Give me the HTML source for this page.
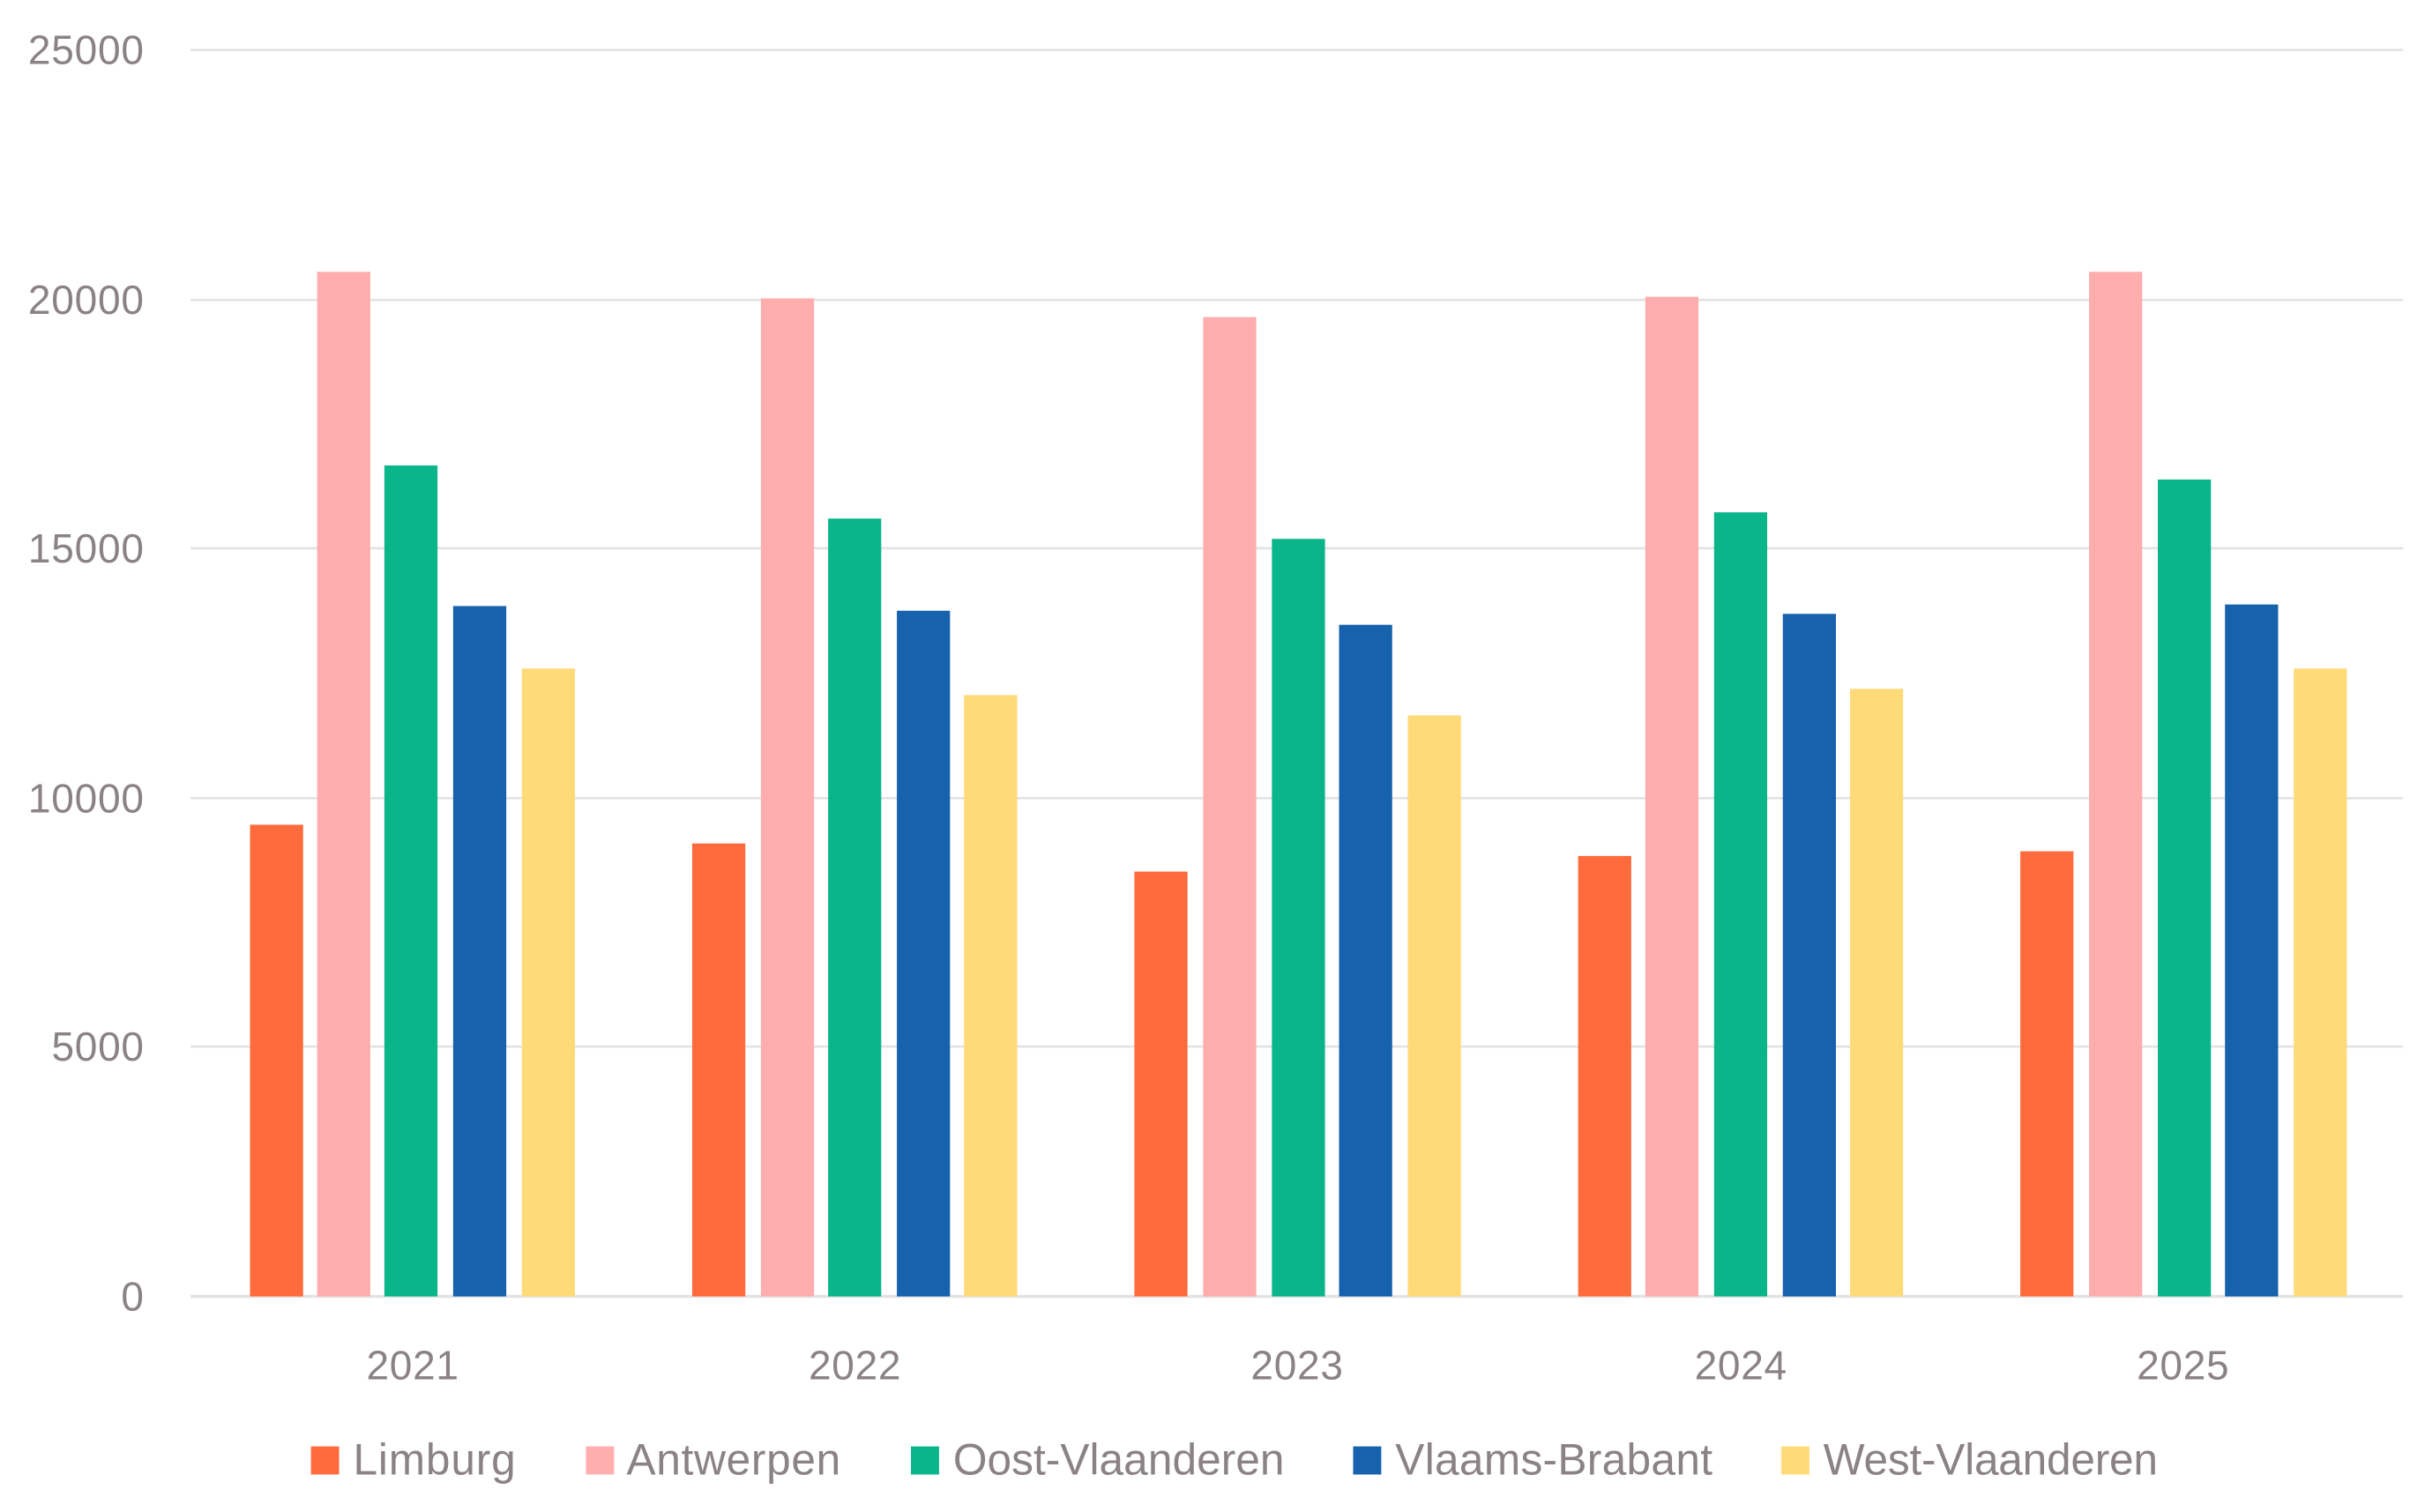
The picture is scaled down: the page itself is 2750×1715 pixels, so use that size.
<!DOCTYPE html>
<html><head><meta charset="utf-8"><style>html,body{margin:0;padding:0;background:#fff}svg{display:block}</style></head>
<body>
<svg width="2750" height="1715" viewBox="0 0 1552 968" preserveAspectRatio="none" xmlns="http://www.w3.org/2000/svg" font-family="Liberation Sans, sans-serif" fill="#8a8286">
<g stroke="#e3e3e3" stroke-width="1.5">
<line x1="122" y1="32" x2="1538" y2="32"/>
<line x1="122" y1="192" x2="1538" y2="192"/>
<line x1="122" y1="351" x2="1538" y2="351"/>
<line x1="122" y1="511" x2="1538" y2="511"/>
<line x1="122" y1="670" x2="1538" y2="670"/>
<line x1="122" y1="830" x2="1538" y2="830" stroke-width="2"/>
</g>
<g font-size="26" text-anchor="end" font-weight="300">
<text x="92" y="41" textLength="74">25000</text>
<text x="92" y="201" textLength="74">20000</text>
<text x="92" y="360" textLength="74">15000</text>
<text x="92" y="520" textLength="74">10000</text>
<text x="92" y="679" textLength="59">5000</text>
<text x="92" y="839">0</text>
</g>
<g id="bars">
<!-- 2021 -->
<rect x="160" y="528" width="34" height="302" fill="#FF6B3D"/>
<rect x="203" y="174" width="34" height="656" fill="#FFADAD"/>
<rect x="246" y="298" width="34" height="532" fill="#0BB58A"/>
<rect x="290" y="388" width="34" height="442" fill="#1662AD"/>
<rect x="334" y="428" width="34" height="402" fill="#FFDA78"/>
<!-- 2022 -->
<rect x="443" y="540" width="34" height="290" fill="#FF6B3D"/>
<rect x="487" y="191" width="34" height="639" fill="#FFADAD"/>
<rect x="530" y="332" width="34" height="498" fill="#0BB58A"/>
<rect x="574" y="391" width="34" height="439" fill="#1662AD"/>
<rect x="617" y="445" width="34" height="385" fill="#FFDA78"/>
<!-- 2023 -->
<rect x="726" y="558" width="34" height="272" fill="#FF6B3D"/>
<rect x="770" y="203" width="34" height="627" fill="#FFADAD"/>
<rect x="814" y="345" width="34" height="485" fill="#0BB58A"/>
<rect x="857" y="400" width="34" height="430" fill="#1662AD"/>
<rect x="901" y="458" width="34" height="372" fill="#FFDA78"/>
<!-- 2024 -->
<rect x="1010" y="548" width="34" height="282" fill="#FF6B3D"/>
<rect x="1053" y="190" width="34" height="640" fill="#FFADAD"/>
<rect x="1097" y="328" width="34" height="502" fill="#0BB58A"/>
<rect x="1141" y="393" width="34" height="437" fill="#1662AD"/>
<rect x="1184" y="441" width="34" height="389" fill="#FFDA78"/>
<!-- 2025 -->
<rect x="1293" y="545" width="34" height="285" fill="#FF6B3D"/>
<rect x="1337" y="174" width="34" height="656" fill="#FFADAD"/>
<rect x="1381" y="307" width="34" height="523" fill="#0BB58A"/>
<rect x="1424" y="387" width="34" height="443" fill="#1662AD"/>
<rect x="1468" y="428" width="34" height="402" fill="#FFDA78"/>
</g>
<g font-size="26" text-anchor="middle">
<text x="264" y="883" textLength="59">2021</text>
<text x="547" y="883" textLength="59">2022</text>
<text x="830" y="883" textLength="59">2023</text>
<text x="1114" y="883" textLength="59">2024</text>
<text x="1397" y="883" textLength="59">2025</text>
</g>
<g font-size="28">
<rect x="199" y="926" width="18" height="18" fill="#FF6B3D"/>
<text x="226" y="944" textLength="104">Limburg</text>
<rect x="375" y="926" width="18" height="18" fill="#FFADAD"/>
<text x="401" y="944" textLength="137">Antwerpen</text>
<rect x="583" y="926" width="18" height="18" fill="#0BB58A"/>
<text x="610" y="944" textLength="212">Oost-Vlaanderen</text>
<rect x="866" y="926" width="18" height="18" fill="#1662AD"/>
<text x="893" y="944" textLength="203">Vlaams-Brabant</text>
<rect x="1140" y="926" width="18" height="18" fill="#FFDA78"/>
<text x="1167" y="944" textLength="214">West-Vlaanderen</text>
</g>
</svg>
</body></html>
